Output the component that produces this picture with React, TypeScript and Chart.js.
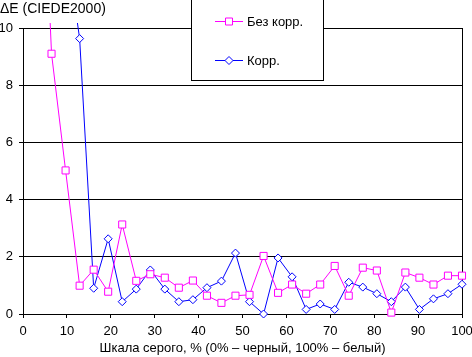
import React, { useEffect, useRef } from 'react';
import { Chart, registerables } from 'chart.js';

Chart.register(...registerables);

const grayLevels = [0, 3.2, 6.5, 9.7, 12.9, 16.1, 19.4, 22.6, 25.8, 29.0, 32.3, 35.5, 38.7, 41.9, 45.2, 48.4, 51.6, 54.8, 58.1, 61.3, 64.5, 67.7, 71.0, 74.2, 77.4, 80.6, 83.9, 87.1, 90.3, 93.5, 96.8, 100];
const uncorrected = [25, 20.6, 9.1, 5.02, 0.99, 1.55, 0.78, 3.13, 1.16, 1.39, 1.27, 0.92, 1.17, 0.64, 0.39, 0.64, 0.67, 2.03, 0.74, 1.03, 0.71, 1.03, 1.68, 0.64, 1.62, 1.52, 0.05, 1.45, 1.27, 1.03, 1.34, 1.34];
const corrected = [25, 20, 16, 13.1, 9.63, 0.9, 2.63, 0.43, 0.87, 1.54, 0.87, 0.43, 0.5, 0.92, 1.15, 2.13, 0.43, 0.0, 1.96, 1.3, 0.16, 0.35, 0.16, 1.11, 0.94, 0.71, 0.43, 0.94, 0.16, 0.53, 0.71, 1.04];
const seriesNames = ['Без корр.', 'Корр.'];
const seriesColors = ['#FF00FF', '#0000FF'];
const xTitle = 'Шкала серого, % (0% – черный, 100% – белый)';
const yTitle = 'ΔE (CIEDE2000)';
const yTicks = [0, 2, 4, 6, 8, 10];
const xTicks = [0, 10, 20, 30, 40, 50, 60, 70, 80, 90, 100];

const FONT = '"Liberation Sans", Arial, sans-serif';

const overlay = {
  id: 'overlay',
  beforeDatasetsDraw(chart: any) {
    const { ctx, chartArea } = chart;
    ctx.save();
    ctx.strokeStyle = '#000';
    ctx.lineWidth = 1;
    ctx.beginPath();
    ctx.moveTo(chartArea.right + 0.5, chartArea.top);
    ctx.lineTo(chartArea.right + 0.5, chartArea.bottom + 1);
    ctx.stroke();
    ctx.restore();
  },
  afterDraw(chart: any) {
    const { ctx } = chart;
    ctx.save();
    // y title
    ctx.fillStyle = '#000';
    ctx.font = '14px ' + FONT;
    ctx.textAlign = 'left';
    ctx.textBaseline = 'alphabetic';
    ctx.fillText(yTitle, 0, 13);

    // legend box
    ctx.fillStyle = '#fff';
    ctx.fillRect(191, -2, 133, 83);
    ctx.strokeStyle = '#000';
    ctx.lineWidth = 1;
    ctx.strokeRect(191.5, -2.5, 132, 83);

    const rows = [21.5, 60.5];
    rows.forEach((y, i) => {
      ctx.strokeStyle = seriesColors[i];
      ctx.lineWidth = 1;
      ctx.beginPath();
      ctx.moveTo(215, y);
      ctx.lineTo(243, y);
      ctx.stroke();
      ctx.fillStyle = '#fff';
      ctx.beginPath();
      if (i === 0) {
        ctx.rect(225.5, y - 3.5, 7, 7);
      } else {
        ctx.moveTo(225, y);
        ctx.lineTo(229, y - 4);
        ctx.lineTo(233, y);
        ctx.lineTo(229, y + 4);
        ctx.closePath();
      }
      ctx.fill();
      ctx.stroke();
      ctx.fillStyle = '#000';
      ctx.font = '13px ' + FONT;
      ctx.textBaseline = 'alphabetic';
      ctx.fillText(seriesNames[i], 247, i === 0 ? 26 : 65);
    });
    ctx.restore();
  },
};

export default function App() {
  const ref = useRef<HTMLCanvasElement | null>(null);

  useEffect(() => {
    if (!ref.current) return;
    Chart.defaults.color = '#000';
    const makeData = (vals: number[]) => grayLevels.map((x, i) => ({ x, y: vals[i] }));
    const chart = new Chart(ref.current, {
      type: 'line',
      data: {
        datasets: [
          {
            label: seriesNames[0],
            data: makeData(uncorrected),
            borderColor: seriesColors[0],
            backgroundColor: '#fff',
            pointBackgroundColor: '#fff',
            pointBorderColor: seriesColors[0],
            pointStyle: 'rect',
            pointRadius: 5,
            pointBorderWidth: 1,
            borderWidth: 1,
            tension: 0,
            clip: { left: 6, top: 5, right: 6, bottom: 6 },
          } as any,
          {
            label: seriesNames[1],
            data: makeData(corrected),
            borderColor: seriesColors[1],
            backgroundColor: '#fff',
            pointBackgroundColor: '#fff',
            pointBorderColor: seriesColors[1],
            pointStyle: 'rectRot',
            pointRadius: 4,
            pointBorderWidth: 1,
            borderWidth: 1,
            tension: 0,
            clip: { left: 6, top: 5, right: 6, bottom: 6 },
          } as any,
        ],
      },
      options: {
        responsive: false,
        animation: false,
        devicePixelRatio: 1,
        layout: { padding: { top: 28, right: 10, left: 0, bottom: 0 } },
        plugins: { legend: { display: false }, tooltip: { enabled: false }, title: { display: false } },
        scales: {
          x: {
            type: 'linear',
            min: 0,
            max: 100,
            afterBuildTicks: (s: any) => { s.ticks = xTicks.map((v) => ({ value: v })); },
            afterFit: (s: any) => {
              s.height = 43;
              s.paddingLeft = 0; s.paddingRight = 0; s.paddingTop = 0; s.paddingBottom = 0;
            },
            grid: { drawOnChartArea: false, drawTicks: true, tickLength: 4, color: '#000', lineWidth: 1 },
            border: { display: true, color: '#000', width: 1 },
            ticks: { color: '#000', font: { family: FONT, size: 13 }, padding: 6, maxRotation: 0, autoSkip: false },
            title: { display: true, text: xTitle, color: '#000', font: { family: FONT, size: 13 }, padding: { top: 0, bottom: 1 } },
          },
          y: {
            type: 'linear',
            min: 0,
            max: 10,
            afterBuildTicks: (s: any) => { s.ticks = yTicks.map((v) => ({ value: v })); },
            afterFit: (s: any) => {
              s.width = 23;
              s.paddingLeft = 0; s.paddingRight = 0; s.paddingTop = 0; s.paddingBottom = 0;
            },
            grid: { drawOnChartArea: true, drawTicks: true, tickLength: 4, color: '#000', lineWidth: 1 },
            border: { display: true, color: '#000', width: 1 },
            ticks: { color: '#000', font: { family: FONT, size: 13 }, padding: 6 },
          },
        },
      } as any,
      plugins: [overlay],
    });
    return () => chart.destroy();
  }, []);

  return (
    <div style={{ position: 'fixed', left: 0, top: 0, width: 472, height: 357, background: '#fff' }}>
      <canvas ref={ref} width={472} height={357} style={{ width: 472, height: 357, display: 'block' }} />
    </div>
  );
}
